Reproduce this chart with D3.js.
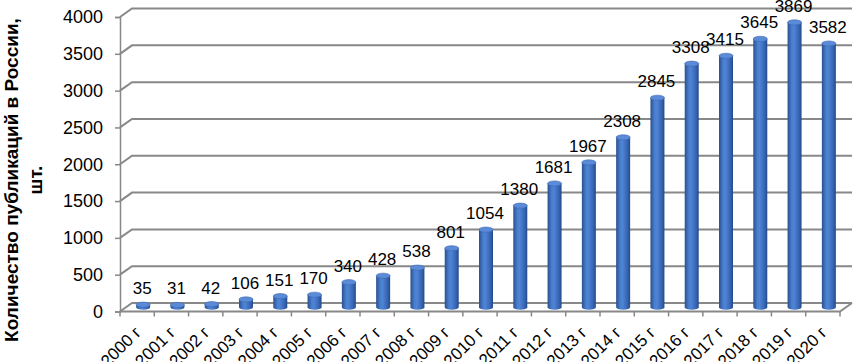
<!DOCTYPE html>
<html>
<head>
<meta charset="utf-8">
<script src="https://cdn.jsdelivr.net/npm/d3@7"></script>
<style>
  html, body { margin: 0; padding: 0; background: #fff; }
  svg { display: block; font-family: "Liberation Sans", Arial, sans-serif; }
</style>
</head>
<body>
<svg id="chart" width="859" height="362"></svg>
<script>
  // publications per year
  const years = ['2000 г', '2001 г', '2002 г', '2003 г', '2004 г', '2005 г', '2006 г', '2007 г',
    '2008 г', '2009 г', '2010 г', '2011 г', '2012 г', '2013 г', '2014 г', '2015 г', '2016 г',
    '2017 г', '2018 г', '2019 г', '2020 г'];
  const counts = [35, 31, 42, 106, 151, 170, 340, 428, 538, 801, 1054, 1380, 1681, 1967, 2308,
    2845, 3308, 3415, 3645, 3869, 3582];
  const yTicks = [0, 500, 1000, 1500, 2000, 2500, 3000, 3500, 4000];
  const titleLines = ['Количество публикаций в России,', 'шт.'];

  (function () {
    const svg = d3.select('#chart');
    const left = 120, right = 840, plotTop = 17, base = 311.5;
    const depth = { dx: 12, dy: -8.5 };
    const barW = 14, ry = 2.6;

    const x = d3.scaleBand().domain(years).range([left, right]).padding(0);
    const y = d3.scaleLinear().domain([0, 4000]).range([base, plotTop]);

    const defs = svg.append('defs');
    const grad = defs.append('linearGradient').attr('id', 'cyl').attr('x1', 0).attr('x2', 1).attr('y1', 0).attr('y2', 0);
    grad.append('stop').attr('offset', '0%').attr('stop-color', '#2a4f8e');
    grad.append('stop').attr('offset', '30%').attr('stop-color', '#4a7fd0');
    grad.append('stop').attr('offset', '45%').attr('stop-color', '#4f84d4');
    grad.append('stop').attr('offset', '80%').attr('stop-color', '#3765b3');
    grad.append('stop').attr('offset', '100%').attr('stop-color', '#244a88');

    // back wall gridlines with the little perspective step at the left
    const grid = svg.append('g').attr('stroke', '#888').attr('stroke-width', 2).attr('fill', 'none');
    yTicks.forEach((t) => {
      const yy = y(t);
      grid.append('path')
        .attr('d', `M${left},${yy}L${left + depth.dx},${yy + depth.dy}L${right + depth.dx},${yy + depth.dy}`);
    });
    // floor front edge and right step
    grid.append('path')
      .attr('d', `M${left},${base}L${right},${base}L${right + depth.dx},${base + depth.dy}`);

    // left axis
    const yAxis = d3.axisLeft(y).tickValues(yTicks).tickSize(5).tickPadding(12).tickFormat(d3.format('d'));
    svg.append('g')
      .attr('transform', `translate(${left},0)`)
      .call(yAxis)
      .call((g) => g.select('.domain').attr('stroke', '#888').attr('stroke-width', 1.5))
      .call((g) => g.selectAll('.tick line').attr('stroke', '#888').attr('stroke-width', 1.5))
      .call((g) => g.selectAll('.tick text').attr('font-size', 18).attr('fill', '#000')
        .attr('font-family', '"Liberation Sans", Arial, sans-serif'));

    // category ticks on the floor edge
    const xTicks = svg.append('g').attr('stroke', '#888').attr('stroke-width', 1.5);
    years.concat(['end']).forEach((d, i) => {
      const xx = i < years.length ? x(d) : right;
      xTicks.append('line').attr('x1', xx).attr('x2', xx).attr('y1', base).attr('y2', base + 5);
    });

    // cylinders
    const bars = svg.append('g');
    years.forEach((d, i) => {
      const cx = x(d) + x.bandwidth() / 2 + depth.dx / 2;
      const yb = y(0) + depth.dy / 2;
      const yt = y(counts[i]) + depth.dy / 2;
      const g = bars.append('g');
      g.append('path')
        .attr('d', `M${cx - barW / 2},${yt}L${cx - barW / 2},${yb}A${barW / 2},${ry} 0 0 0 ${cx + barW / 2},${yb}L${cx + barW / 2},${yt}Z`)
        .attr('fill', 'url(#cyl)');
      g.append('ellipse')
        .attr('cx', cx).attr('cy', yt).attr('rx', barW / 2).attr('ry', ry)
        .attr('fill', '#5b8ad6').attr('stroke', '#3b68b5').attr('stroke-width', 0.6);

      svg.append('text')
        .attr('x', cx - 1)
        .attr('y', yt - ry - 8)
        .attr('text-anchor', 'middle')
        .attr('font-size', 17)
        .attr('fill', '#000')
        .text(counts[i]);
    });

    // rotated category labels
    const xl = svg.append('g');
    years.forEach((d) => {
      const cx = x(d) + x.bandwidth() / 2;
      xl.append('text')
        .attr('transform', `translate(${cx + 5},${base + 22}) rotate(-45)`)
        .attr('text-anchor', 'end')
        .attr('font-size', 17)
        .attr('fill', '#000')
        .text(d);
    });

    // axis title
    const title = svg.append('text')
      .attr('transform', 'translate(18,180) rotate(-90)')
      .attr('text-anchor', 'middle')
      .attr('font-size', 19)
      .attr('font-weight', 'bold')
      .attr('fill', '#000');
    titleLines.forEach((t, i) => {
      title.append('tspan').attr('x', 0).attr('dy', i === 0 ? 0 : 24).text(t);
    });
  })();
</script>
</body>
</html>
